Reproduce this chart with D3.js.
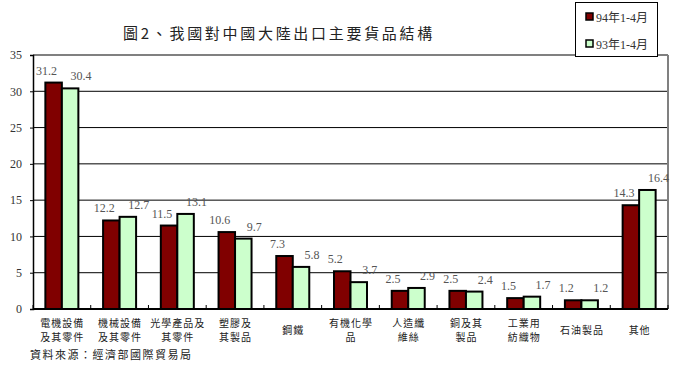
<!DOCTYPE html>
<html><head><meta charset="utf-8">
<script src="https://cdn.jsdelivr.net/npm/d3@7"></script>
<style>body{margin:0;background:#fff}svg{display:block}</style>
</head><body>
<script>
const categories = [
  ["電機設備","及其零件"],["機械設備","及其零件"],["光學產品及","其零件"],["塑膠及","其製品"],
  ["鋼鐵"],["有機化學","品"],["人造纖","維絲"],["銅及其","製品"],["工業用","紡織物"],["石油製品"],["其他"]
];
const series94 = [31.2,12.2,11.5,10.6,7.3,5.2,2.5,2.5,1.5,1.2,14.3];
const series93 = [30.4,12.7,13.1,9.7,5.8,3.7,2.9,2.4,1.7,1.2,16.4];
const seriesNames = ["94年1-4月","93年1-4月"];
const yTicks = [0,5,10,15,20,25,30,35];
const title = "圖2、我國對中國大陸出口主要貨品結構";
const source = "資料來源：經濟部國際貿易局";

const W=687,H=369;
const L=33,R=668,T=55,B=309;
const colors=["#800000","#ccffcc"];
const svg=d3.select("body").append("svg").attr("width",W).attr("height",H);

const x=d3.scaleBand().domain(d3.range(categories.length)).range([L,R]);
const y=d3.scaleLinear().domain([0,35]).range([B,T]);
const bw=16.5;

// gridlines
svg.append("g").selectAll("line").data(yTicks.filter(t=>t>0&&t<35)).join("line")
  .attr("x1",L).attr("x2",R).attr("y1",d=>y(d)).attr("y2",d=>y(d))
  .attr("stroke","#000").attr("stroke-width",1);
// top & right border grey
svg.append("line").attr("x1",L).attr("x2",R).attr("y1",T).attr("y2",T).attr("stroke","#808080").attr("stroke-width",2);
svg.append("line").attr("x1",R).attr("x2",R).attr("y1",T).attr("y2",B).attr("stroke","#808080").attr("stroke-width",2);

// y axis
const yAxis=d3.axisLeft(y).tickValues(yTicks).tickSize(3).tickFormat(d3.format("d"));
const ya=svg.append("g").attr("transform",`translate(${L},0)`).call(yAxis);
ya.select(".domain").attr("stroke","#000").attr("stroke-width",1.5);
ya.selectAll("text").attr("font-family","Liberation Serif").attr("font-size",12).attr("fill","#333").attr("x",-11);

// bars
const groups=[series94,series93];
groups.forEach((s,si)=>{
  svg.append("g").selectAll("rect").data(s).join("rect")
    .attr("x",(d,i)=>x(i)+x.bandwidth()/2-bw+si*bw)
    .attr("y",d=>y(d)).attr("width",bw).attr("height",d=>B-y(d))
    .attr("fill",colors[si]).attr("stroke","#000").attr("stroke-width",2);
  svg.append("g").selectAll("text").data(s).join("text")
    .attr("x",(d,i)=>x(i)+x.bandwidth()/2-bw/2+si*bw+(si?11:-7))
    .attr("y",d=>y(d)-8).attr("text-anchor","middle")
    .attr("font-family","Liberation Serif").attr("font-size",12).attr("fill","#555")
    .text(d=>d.toFixed(1));
});

// x axis
const xa=svg.append("g").attr("transform",`translate(0,${B})`);
xa.append("line").attr("x1",L).attr("x2",R).attr("stroke","#000").attr("stroke-width",2);
xa.selectAll("line.t").data(d3.range(categories.length+1)).join("line").attr("class","t")
  .attr("x1",i=>L+i*x.step()).attr("x2",i=>L+i*x.step()).attr("y1",0).attr("y2",-4).attr("stroke","#000");

const lab=svg.append("g");
categories.forEach((c,i)=>{
  const cx=x(i)+x.bandwidth()/2;
  const ys=c.length===1?[334]:[327,341];
  c.forEach((t,j)=>{
    lab.append("text").attr("x",cx+0.5).attr("y",ys[j]).attr("text-anchor","middle")
      .attr("font-family","Noto Sans CJK TC").attr("font-size",10).attr("letter-spacing",1)
      .attr("fill","#222").text(t);
  });
});

// title
svg.append("text").attr("x",123).attr("y",39).attr("font-family","Noto Sans CJK TC")
  .attr("font-size",15).attr("letter-spacing",2.7).attr("fill","#222").text(title);
// source
svg.append("text").attr("x",30).attr("y",359).attr("font-family","Noto Sans CJK TC")
  .attr("font-size",11).attr("letter-spacing",1.5).attr("fill","#222").text(source);

// legend
const lg=svg.append("g");
lg.append("rect").attr("x",575.5).attr("y",2.5).attr("width",82).attr("height",54).attr("fill","#fff").attr("stroke","#000");
seriesNames.forEach((n,i)=>{
  lg.append("rect").attr("x",586).attr("y",13+i*27).attr("width",7).attr("height",7)
    .attr("fill",colors[i]).attr("stroke","#000").attr("stroke-width",1.5);
  lg.append("text").attr("x",596).attr("y",22+i*27).attr("font-family","Liberation Serif, Noto Sans CJK TC")
    .attr("font-size",12).attr("fill","#333").text(n);
});
</script>
</body></html>
